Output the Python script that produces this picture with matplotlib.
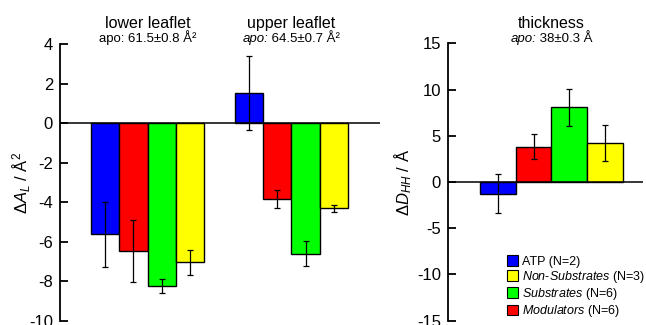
import matplotlib
matplotlib.use("Agg")
import matplotlib.pyplot as plt
import matplotlib.transforms as mtransforms
from matplotlib.patches import Patch

plt.rcParams['font.family'] = ['Liberation Sans', 'DejaVu Sans']
plt.rcParams['mathtext.fontset'] = 'custom'
plt.rcParams['mathtext.rm'] = 'Liberation Sans'
plt.rcParams['mathtext.it'] = 'Liberation Sans:italic'
plt.rcParams['axes.unicode_minus'] = False

# area per lipid change, order: ATP, Modulators, Substrates, Non-Substrates
lower_vals = [-5.63, -6.45, -8.24, -7.04]
lower_err = [1.65, 1.57, 0.34, 0.63]
upper_vals = [1.53, -3.84, -6.6, -4.3]
upper_err = [1.88, 0.44, 0.62, 0.17]
# thickness change
thick_vals = [-1.25, 3.83, 8.08, 4.22]
thick_err = [2.15, 1.35, 2.0, 1.9]

colors = ['#0000ff', '#ff0000', '#00ff00', '#ffff00']
legend_labels = ['ATP (N=2)', r'$\mathit{Non}$-$\mathit{Substrates}$ (N=3)',
                 r'$\mathit{Substrates}$ (N=6)', r'$\mathit{Modulators}$ (N=6)']
legend_colors = ['#0000ff', '#ffff00', '#00ff00', '#ff0000']

fig = plt.figure(figsize=(6.46, 3.25), dpi=100)
ax1 = fig.add_axes([0.0929, 0.0132, 0.495, 0.8505])
ax2 = fig.add_axes([0.6935, 0.0132, 0.302, 0.8536])

ekw = dict(ecolor='black', elinewidth=0.9, capsize=2.5, capthick=0.9)

lx = [0, 1, 2, 3]
ux = [5.1, 6.1, 7.1, 8.1]
ax1.bar(lx, lower_vals, width=1, color=colors, edgecolor='black', linewidth=1,
        yerr=lower_err, error_kw=ekw, zorder=2)
ax1.bar(ux, upper_vals, width=1, color=colors, edgecolor='black', linewidth=1,
        yerr=upper_err, error_kw=ekw, zorder=2)
ax1.axhline(0, color='black', lw=1.1, zorder=3)
ax1.set_xlim(-1.6, 9.73)
ax1.set_ylim(-10, 4)
ax1.set_yticks([-10, -8, -6, -4, -2, 0, 2, 4])
ax1.set_ylabel(r'$\Delta A_L$ / Å$^2$', fontsize=12, labelpad=-2.5)

tx = [0, 1, 2, 3]
ax2.bar(tx, thick_vals, width=1, color=colors, edgecolor='black', linewidth=1,
        yerr=thick_err, error_kw=ekw, zorder=2)
ax2.axhline(0, color='black', lw=1.1, zorder=3)
ax2.set_xlim(-1.4, 4.07)
ax2.set_ylim(-15, 15)
ax2.set_yticks([-15, -10, -5, 0, 5, 10, 15])
ax2.set_ylabel(r'$\Delta D_{HH}$ / Å', fontsize=12, labelpad=2.5)

for ax in (ax1, ax2):
    for s in ('top', 'right', 'bottom'):
        ax.spines[s].set_visible(False)
    ax.spines['left'].set_linewidth(1.3)
    ax.set_xticks([])
    ax.tick_params(axis='y', direction='in', length=6, width=1.3,
                   labelsize=12, pad=5)

# group titles (baselines placed in figure coordinates)
t_y = 1 - 28 / 325
s_y = 1 - 42 / 325
renderer = fig.canvas.get_renderer()


def subtitle(ax, x, italic, rest):
    # "apo:" in italic followed by plain text, centred on x as one line
    tr = mtransforms.blended_transform_factory(ax.transData, fig.transFigure)
    t1 = ax.text(x, s_y, italic, transform=tr, ha='left', va='baseline',
                 fontsize=9.5, style='italic')
    t2 = ax.text(x, s_y, rest, transform=tr, ha='left', va='baseline',
                 fontsize=9.5)
    w1 = t1.get_window_extent(renderer).width
    w2 = t2.get_window_extent(renderer).width
    start = -(w1 + w2) / 2
    t1.set_transform(mtransforms.offset_copy(tr, fig=fig, x=start, units='dots'))
    t2.set_transform(mtransforms.offset_copy(tr, fig=fig, x=start + w1, units='dots'))


for ax, x, title in [(ax1, 1.5, 'lower leaflet'), (ax1, 6.6, 'upper leaflet'),
                     (ax2, 1.5, 'thickness')]:
    tr = mtransforms.blended_transform_factory(ax.transData, fig.transFigure)
    ax.text(x, t_y, title, transform=tr, ha='center', va='baseline', fontsize=11.5)

tr = mtransforms.blended_transform_factory(ax1.transData, fig.transFigure)
ax1.text(1.5, s_y, 'apo: 61.5±0.8 Å²', transform=tr, ha='center', va='baseline',
         fontsize=9.5)
subtitle(ax1, 6.6, 'apo:', ' 64.5±0.7 Å²')
subtitle(ax2, 1.5, 'apo:', ' 38±0.3 Å')

handles = [Patch(facecolor=c, edgecolor='black', linewidth=0.8) for c in legend_colors]
ax2.legend(handles, legend_labels, loc='lower left', bbox_to_anchor=(0.3, 0.005),
           frameon=False, fontsize=9, handlelength=0.95, handleheight=0.95,
           handletextpad=0.25, labelspacing=0.1, borderaxespad=0, borderpad=0)

fig.savefig('out.png', dpi=100)
